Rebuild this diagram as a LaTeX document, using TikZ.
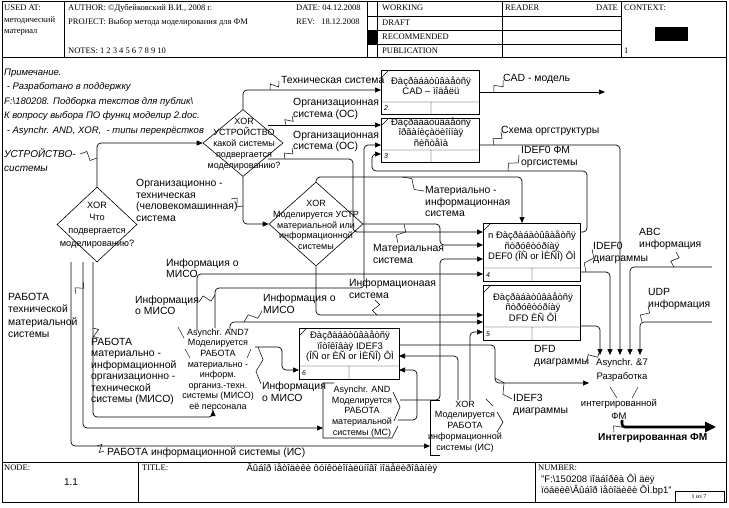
\documentclass[tikz,border=0pt]{standalone}
\usepackage{fontspec}
\setmainfont{Liberation Sans}
\newfontfamily\hdrfont{Liberation Serif}
\usetikzlibrary{arrows.meta,calc,shapes.geometric}
\newcommand\squig[2]{\draw[sq] (#1) -- ($(#1)!0.35!(#2)!4pt!90:(#2)$) -- ($(#1)!0.65!(#2)!4pt!-90:(#2)$) -- (#2);}
\begin{document}
\begin{tikzpicture}[x=1pt,y=-1pt,
 frame/.style={line width=0.8pt},
 conn/.style={line width=0.7pt, rounded corners=4pt},
 arr/.style={conn, -{Triangle[length=6pt,width=5pt]}},
 sq/.style={line width=0.5pt},
 lbl/.style={font=\fontsize{10.4}{11.5}\selectfont, align=left, anchor=west, inner sep=0pt},
 ilbl/.style={lbl, font=\fontsize{9.5}{14.5}\selectfont\itshape},
 btxt/.style={font=\fontsize{9.5}{10}\selectfont, align=center, inner sep=0pt},
 jtxt/.style={font=\fontsize{9}{10.7}\selectfont, align=center, inner sep=0pt},
 hdr/.style={font=\hdrfont\fontsize{8.5}{10}\selectfont, anchor=west, inner sep=0pt},
 boxnode/.style={draw, line width=0.7pt, anchor=north west, inner sep=0pt},
 dia/.style={diamond, draw, line width=0.6pt, inner sep=0pt},
 num/.style={font=\fontsize{7}{8}\selectfont\itshape, anchor=west, inner sep=0pt}
]
\fill[white] (0,0) rectangle (729,507);
\useasboundingbox (0,0) rectangle (729,507);

% ---------- frame, header, footer
\draw[frame] (2,1) rectangle (726,502);
\draw[frame] (2,57) -- (726,57);
\draw[frame] (2,462) -- (726,462);
\draw (64,1) -- (64,57) (367,1) -- (367,57) (377,1) -- (377,57) (502,1) -- (502,57) (621,1) -- (621,57);
\draw (367,16) -- (621,16) (367,30) -- (621,30) (367,44) -- (621,44);
\fill (367,30) rectangle (377,44);
\fill (655,27) rectangle (688,41);
\node[hdr] (usedat) at (4,8) {USED AT:};
\node[hdr] (used1) at (4,20) {методический};
\node[hdr] (used2) at (4,32) {материал};
\node[hdr] (author) at (68,8) {AUTHOR: ©Дубейковский В.И., 2008 г.};
\node[hdr] (project) at (68,22) {PROJECT: Выбор метода моделирования для ФМ};
\node[hdr] (notes) at (68,51) {NOTES: 1 2 3 4 5 6 7 8 9 10};
\node[hdr] (date) at (296,8) {DATE: 04.12.2008};
\node[hdr] (rev) at (296,22) {REV:\ \ \ 18.12.2008};
\node[hdr] (working) at (382,8) {WORKING};
\node[hdr] (draft) at (382,23) {DRAFT};
\node[hdr] (recom) at (382,37) {RECOMMENDED};
\node[hdr] (publ) at (382,51) {PUBLICATION};
\node[hdr] (reader) at (505,8) {READER};
\node[hdr] (rdate) at (596,8) {DATE};
\node[hdr] (context) at (624,8) {CONTEXT:};
\node[hdr] (ctxnum) at (624,51) {1};

\draw (138,462) -- (138,502) (535,462) -- (535,502);
\draw (675,491) rectangle (724,502);
\node[hdr] (nodelbl) at (4,468) {NODE:};
\node[font=\fontsize{10}{12}\selectfont, inner sep=0pt] (nodenum) at (71,482) {1.1};
\node[hdr] (titlelbl) at (142,468) {TITLE:};
\node[font=\fontsize{9.5}{11}\selectfont, inner sep=0pt] (title) at (342,468) {Âûáîð ìåòîäèêè ôóíêöèîíàëüíîãî ìîäåëèðîâàíèÿ};
\node[hdr] (numberlbl) at (538,468) {NUMBER:};
\node[font=\fontsize{9.5}{11}\selectfont, anchor=west, inner sep=0pt] (num1) at (541,479) {"F:\textbackslash 150208 ïîäáîðêà ÔÌ äëÿ};
\node[font=\fontsize{9.5}{11}\selectfont, anchor=west, inner sep=0pt] (num2) at (541,490) {ïóáëèê\textbackslash Âûáîð ìåòîäèêè ÔÌ.bp1"};
\node[font=\hdrfont\fontsize{6}{7}\selectfont, inner sep=0pt] (pages) at (699,496.5) {1 из 7};

% ---------- notes
\node[ilbl] (notetext) at (4,102) {Примечание.\\\ - Разработано в поддержку\\F:\textbackslash 180208. Подборка текстов для публик\textbackslash\\К вопросу выбора ПО функц моделир 2.doc.\\\ - Asynchr. AND, XOR,\ \ - типы перекрёстков};

% ---------- activity boxes
\node[boxnode, minimum width=98pt, minimum height=44pt] (bA) at (381,70) {};
\draw (381,102) -- (479,102) (431,102) -- (431,114) (382,77) -- (388,71);
\node[num] (nA) at (384,108) {2};
\node[btxt] (tA) at (431,85.5) {Ðàçðàáàòûâàåòñÿ\\CAD -- ìîäåëü};

\node[boxnode, minimum width=98pt, minimum height=44pt] (bB) at (381,118) {};
\draw (381,150) -- (479,150) (431,150) -- (431,162) (382,125) -- (388,119);
\node[num] (nB) at (384,156) {3};
\node[btxt, font=\fontsize{9.5}{9}\selectfont] (tB) at (431,132) {Ðàçðàáàòûâàåòñÿ\\îðãàíèçàöèîííàÿ\\ñèñòåìà};

\node[boxnode, minimum width=97pt, minimum height=58pt] (bD) at (483,223) {};
\draw (483,268) -- (580,268) (532,268) -- (532,281) (484,230) -- (490,224);
\node[num] (nD) at (486,275) {4};
\node[btxt, font=\fontsize{9.5}{10.5}\selectfont] (tD) at (532,246.5) {n Ðàçðàáàòûâàåòñÿ\\ñòðóêòóðíàÿ\\DEF0 (ÎÑ or ÌÈÑÎ) ÔÌ};

\node[boxnode, minimum width=97pt, minimum height=55pt] (bE) at (483,285) {};
\draw (483,327) -- (580,327) (532,327) -- (532,340) (484,292) -- (490,286);
\node[num] (nE) at (486,334) {5};
\node[btxt] (tE) at (533,307) {Ðàçðàáàòûâàåòñÿ\\ñòðóêòóðíàÿ\\DFD ÈÑ ÔÌ};

\node[boxnode, minimum width=100pt, minimum height=51pt] (bF) at (299,328) {};
\draw (299,366) -- (399,366) (349,366) -- (349,379) (300,335) -- (306,329);
\node[num] (nF) at (302,373) {6};
\node[btxt, font=\fontsize{9.5}{10.5}\selectfont] (tF) at (350,346.5) {Ðàçðàáàòûâàåòñÿ\\ïîòîêîâàÿ IDEF3\\(ÎÑ or ÈÑ or ÌÈÑÎ) ÔÌ};

% ---------- XOR diamonds
\node[dia, minimum width=80pt, minimum height=67pt] (d1) at (243,143) {};
\node[jtxt, font=\fontsize{9}{11}\selectfont] (d1t) at (244,144) {XOR\\УСТРОЙСТВО\\какой системы\\подвергается\\моделированию?};
\node[dia, minimum width=80pt, minimum height=75pt] (d2) at (97,224.5) {};
\node[jtxt, font=\fontsize{9.2}{12.7}\selectfont] (d2t) at (97,225) {XOR\\Что\\подвергается\\моделированию?};
\node[dia, minimum width=94pt, minimum height=84pt] (d3) at (316,224) {};
\node[jtxt] (d3t) at (316,225) {XOR\\Моделируется УСТР\\материальной или\\информационной\\системы};

% ---------- junctions
\node[jtxt, font=\fontsize{9}{10.6}\selectfont] (j4) at (218,370) {Asynchr. AND7\\Моделируется\\РАБОТА\\материально -\\информ.\\организ.-техн.\\системы (МИСО)\\её персонала};
\draw (178,327) -- (184,338) (185,349) -- (190,358) (251,349) -- (247,358);
\node[jtxt, font=\fontsize{9}{10.75}\selectfont] (j6) at (362,411.5) {Asynchr. AND\\Моделируется\\РАБОТА\\материальной\\системы (МС)};
\draw[line width=0.6pt] (334,383) -- (323,383) -- (323,438) -- (392,438) -- (398,426);
\draw[line width=0.6pt] (393,392) -- (400,407) -- (394,421);
\node[jtxt, font=\fontsize{9}{10.75}\selectfont] (j7) at (465,426.5) {XOR\\Моделируется\\РАБОТА\\информационной\\системы (ИС)};
\draw[line width=0.6pt] (440,400) -- (430,400) -- (430,455) -- (440,455);
\draw[line width=0.6pt] (486,399) -- (493,406) (497,412) -- (503,422) -- (497,432);
\node[jtxt, font=\fontsize{9.5}{14}\selectfont] (j8a) at (622,370) {Asynchr. \&7\\Разработка};
\node[jtxt, font=\fontsize{9.5}{13}\selectfont] (j8b) at (619,409.5) {интегрированной\\ФМ};
\draw (610,387) -- (617,398) (638,387) -- (632,398);

% ---------- connectors
\draw[arr] (d1.north) -- (243,90) -- (381,90);
\draw[arr] (268,125) -- (381,125);
\draw[arr] (268,159) -- (353,159) -- (353,232) -- (483,232);
\draw[arr] (d1.south) -- (243,224) -- (d3.west);
\draw[arr] (d2.north) -- (97,143) -- (d1.west);
\draw[arr] (d3.north) -- (316,177) -- (522,177) -- (522,223);
\draw[arr] (d3.east) -- (440,224) -- (440,245) -- (483,245);
\draw[arr] (d3.south) -- (316,315) -- (483,315);
\draw[arr] (215,328) -- (215,288) -- (364,288) -- (364,145) -- (381,145);
\draw[arr] (197,330) -- (197,274) -- (483,274);
\draw[arr] (230,330) -- (230,322) -- (483,322);
\draw[arr] (255,347) -- (282,347) -- (282,370) -- (299,370);
\draw[arr] (93,262) -- (93,417) -- (213,417) -- (213,410);
\draw[arr] (83,262) -- (83,428) -- (323,428);
\draw[arr] (71,262) -- (71,446) -- (430,446);
\draw[arr] (400,400) -- (440,400) -- (440,259) -- (483,259);
\draw[arr] (398,420) -- (417,420) -- (417,370) -- (399,370);
\draw[arr] (458,400) -- (458,356) -- (399,356);
\draw[arr] (470,400) -- (470,332) -- (483,332);
\draw[arr] (399,345) -- (495,345) -- (495,383) -- (589,383);
\draw[arr] (479,92) -- (605,92);
\draw[arr] (479,145) -- (620,145) -- (620,355);
\draw[arr] (580,232) -- (587,232) -- (587,171) -- (372,171) -- (372,154) -- (381,154);
\draw[arr] (580,272) -- (610,272) -- (610,355);
\draw[arr] (580,326) -- (600,326) -- (600,355);
\draw[arr] (712,267) -- (630,267) -- (630,355);
\draw[arr] (712,322) -- (640,322) -- (640,355);
\draw[line width=2.6pt, rounded corners=3pt, -{Triangle[length=11pt,width=10pt]}] (622,420) -- (622,427) -- (716,427);

% ---------- arrow labels
\node[lbl] (l1) at (281,80) {Техническая система};
\node[lbl] (l2) at (293,109) {Организационная\\система (ОС)};
\node[lbl] (l3) at (293,141.5) {Организационная\\система (ОС)};
\node[lbl] (l4) at (136,200.5) {Организационно -\\техническая\\(человекомашинная)\\система};
\node[ilbl, font=\fontsize{10}{14}\selectfont\itshape] (l5) at (4,160) {УСТРОЙСТВО-\\системы};
\node[lbl] (l6) at (425,201.5) {Материально -\\информационная\\система};
\node[lbl] (l7) at (373,254) {Материальная\\система};
\node[lbl] (l8) at (349,289) {Информационаая\\система};
\node[lbl] (l9) at (166,268.5) {Информация о\\МИСО};
\node[lbl] (l10) at (135,305.5) {Информация\\о МИСО};
\node[lbl] (l11) at (263,304) {Информация о\\МИСО};
\node[lbl] (l12) at (262,392) {Информация\\о МИСО};
\node[lbl, font=\fontsize{10.4}{12.3}\selectfont] (l13) at (8,315.5) {РАБОТА\\технической\\материальной\\системы};
\node[lbl] (l14) at (91,371.5) {РАБОТА\\материально -\\информационной\\организационно -\\технической\\системы (МИСО)};
\node[lbl] (l15) at (107,453) {РАБОТА информационной системы (ИС)};
\node[lbl] (l16) at (503,79) {CAD - модель};
\node[lbl] (l17) at (501,131) {Схема оргструктуры};
\node[lbl] (l18) at (521,157) {IDEF0 ФМ\\оргсистемы};
\node[lbl] (l19) at (593,253) {IDEF0\\диаграммы};
\node[lbl] (l20) at (639,239) {ABC\\информация};
\node[lbl] (l21) at (648,299) {UDP\\информация};
\node[lbl] (l22) at (534,356) {DFD\\диаграммы};
\node[lbl] (l23) at (513,405) {IDEF3\\диаграммы};
\node[lbl, font=\fontsize{10.2}{12}\selectfont\bfseries] (l24) at (598,438) {Интегрированная ФМ};

% ---------- label leaders
\squig{279,81}{270,90}
\squig{292,116}{286,125}
\squig{292,148}{285,159}
\squig{231,199}{243,206}
\squig{80,154}{97,158}
\squig{424,191}{402,177}
\squig{398,243}{404,224}
\squig{375,300}{377,315}
\squig{199,302}{215,295}
\squig{262,311}{244,322}
\squig{261,384}{258,347}
\squig{76,294}{83,282}
\squig{99,338}{93,328}
\squig{104,451}{97,446}
\squig{503,80}{494,92}
\squig{501,132}{494,145}
\squig{519,155}{508,171}
\squig{592,249}{586,272}
\squig{676,252}{674,267}
\squig{648,306}{642,322}
\squig{586,362}{600,350}
\squig{512,399}{495,378}
\squig{614,432}{622,421}
\end{tikzpicture}
\end{document}
